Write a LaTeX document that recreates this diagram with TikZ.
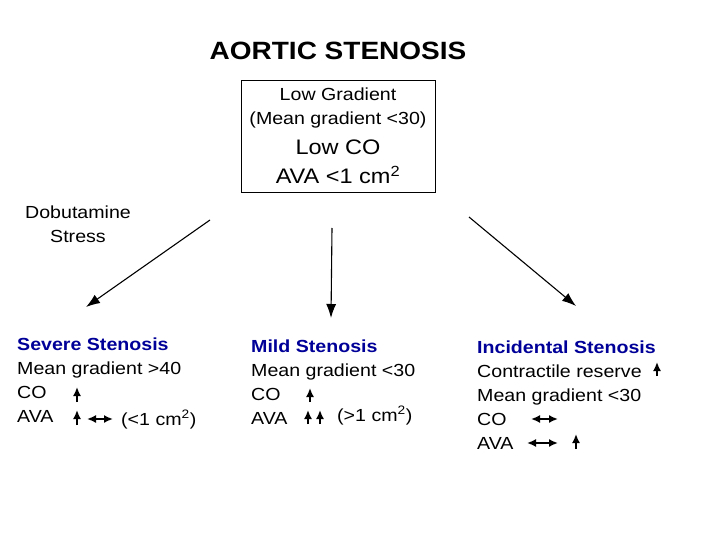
\documentclass[tikz,border=0pt]{standalone}
\usepackage{fontspec}
\setmainfont{Liberation Sans}[FakeStretch=1.12]
\usepackage{tikz}
\usetikzlibrary{arrows.meta}
\definecolor{stenblue}{RGB}{0,0,153}

\begin{document}
\begin{tikzpicture}[x=1pt,y=-1pt,
    txt/.style={inner sep=0pt,font=\fontsize{17.5}{24}\selectfont},
    col/.style={txt,anchor=base west,align=left},
    flow/.style={-{Latex[length=14pt,width=10pt]},line width=1.1pt},
    uparr/.style={-{Latex[length=9pt,width=8pt]},line width=1.7pt},
    dblarr/.style={{Latex[length=9pt,width=8pt]}-{Latex[length=9pt,width=8pt]},line width=1.7pt}]
    \fill[white] (0,0) rectangle (720,540);
    \useasboundingbox (0,0) rectangle (720,540);
    \node[inner sep=0pt,anchor=base,font=\fontsize{25}{28}\selectfont\bfseries] (title) at (338,60) {AORTIC STENOSIS};
    \node[txt,draw,line width=0.8pt,align=center,minimum width=194pt,minimum height=112pt] (lowgrad) at (338,136)
        {Low Gradient\\(Mean gradient <30)\\[6pt]{\fontsize{21}{24}\selectfont Low CO}\\[5pt]{\fontsize{21}{24}\selectfont AVA <1 cm\textsuperscript{2}}};
    \node[txt,align=center,anchor=base] (dobu) at (78,242) {Dobutamine\\Stress};
    % three outcomes (placed by last baseline)
    \node[col] (severe) at (17,422) {\textcolor{stenblue}{\bfseries Severe Stenosis}\\Mean gradient >40\\CO\\AVA};
    \node[col] (mild) at (251,424) {\textcolor{stenblue}{\bfseries Mild Stenosis}\\Mean gradient <30\\CO\\AVA};
    \node[col] (incid) at (477,449) {\textcolor{stenblue}{\bfseries Incidental Stenosis}\\Contractile reserve\\Mean gradient <30\\CO\\AVA};
    \node[col] (sevava) at (121,425) {(<1 cm\textsuperscript{2})};
    \node[col] (mildava) at (337,421) {(>1 cm\textsuperscript{2})};
    \coordinate (l0) at (210,220); \coordinate (l1) at (86,307);
    \coordinate (m0) at (332,228); \coordinate (m1) at (331,318);
    \coordinate (r0) at (469,217); \coordinate (r1) at (576,306);
    \draw[flow] (l0) -- (l1);
    \draw[flow] (m0) -- (m1);
    \draw[flow] (r0) -- (r1);
    % small arrows
    \draw[uparr] (77,402) -- (77,387);
    \draw[uparr] (77,425) -- (77,410);
    \draw[dblarr] (87,419) -- (113,419);
    \draw[uparr] (310,402) -- (310,388);
    \draw[uparr] (308,424) -- (308,410);
    \draw[uparr] (320,424) -- (320,410);
    \draw[uparr] (657,376) -- (657,362);
    \draw[dblarr] (531,419) -- (558,419);
    \draw[dblarr] (527,443) -- (558,443);
    \draw[uparr] (576,449) -- (576,434);
\end{tikzpicture}
\end{document}
